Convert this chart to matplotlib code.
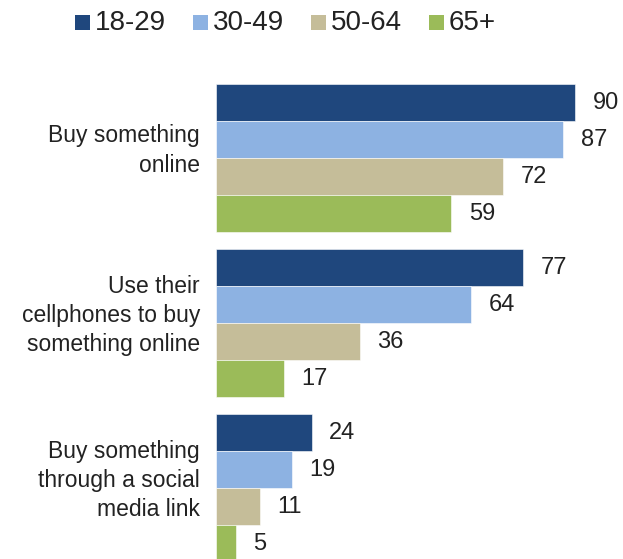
import numpy as np
import matplotlib; matplotlib.use("Agg")
import matplotlib.pyplot as plt
from matplotlib.patches import Rectangle

plt.rcParams["font.family"] = ["Liberation Sans", "DejaVu Sans"]

activities = ["Buy something\nonline",
              "Use their\ncellphones to buy\nsomething online",
              "Buy something\nthrough a social\nmedia link"]
age_groups = ["18-29", "30-49", "50-64", "65+"]
colors = ["#1F477D", "#8DB2E2", "#C5BD99", "#9BBB59"]
pct_18_29 = [90, 77, 24]
pct_30_49 = [87, 64, 19]
pct_50_64 = [72, 36, 11]
pct_65 = [59, 17, 5]
series = [pct_18_29, pct_30_49, pct_50_64, pct_65]

W, H = 623, 559
fig = plt.figure(figsize=(W / 100, H / 100), dpi=100)
ax = fig.add_axes([216 / W, 0, 399 / W, 475 / H])

pitch = 4.46
for i, (vals, c) in enumerate(zip(series, colors)):
    y = np.arange(len(activities)) * pitch + i + 0.5
    ax.barh(y, vals, height=1.0, color=c, edgecolor="white", linewidth=0.4)
    for yy, v in zip(y, vals):
        ax.text(v + 4.4, yy, str(v), ha="left", va="center", fontsize=17, color="#222222")

for g, lab in enumerate(activities):
    ax.text(-4, g * pitch + 1.8, lab, ha="right", va="center", fontsize=16.5,
            color="#222222", linespacing=1.35)

ax.set_xlim(0, 100)
ax.set_ylim(475 / 37, 0)
ax.axis("off")

# legend row across the top
leg_x = [75, 193, 311, 429]
for x, lab, c in zip(leg_x, age_groups, colors):
    fig.patches.append(Rectangle((x / W, 1 - 30 / H), 15 / W, 15 / H, transform=fig.transFigure,
                                 facecolor=c, edgecolor="none"))
    fig.text((x + 20) / W, 1 - 23 / H, lab, ha="left", va="center", fontsize=20, color="#222222")

fig.savefig("out.png", dpi=100)
